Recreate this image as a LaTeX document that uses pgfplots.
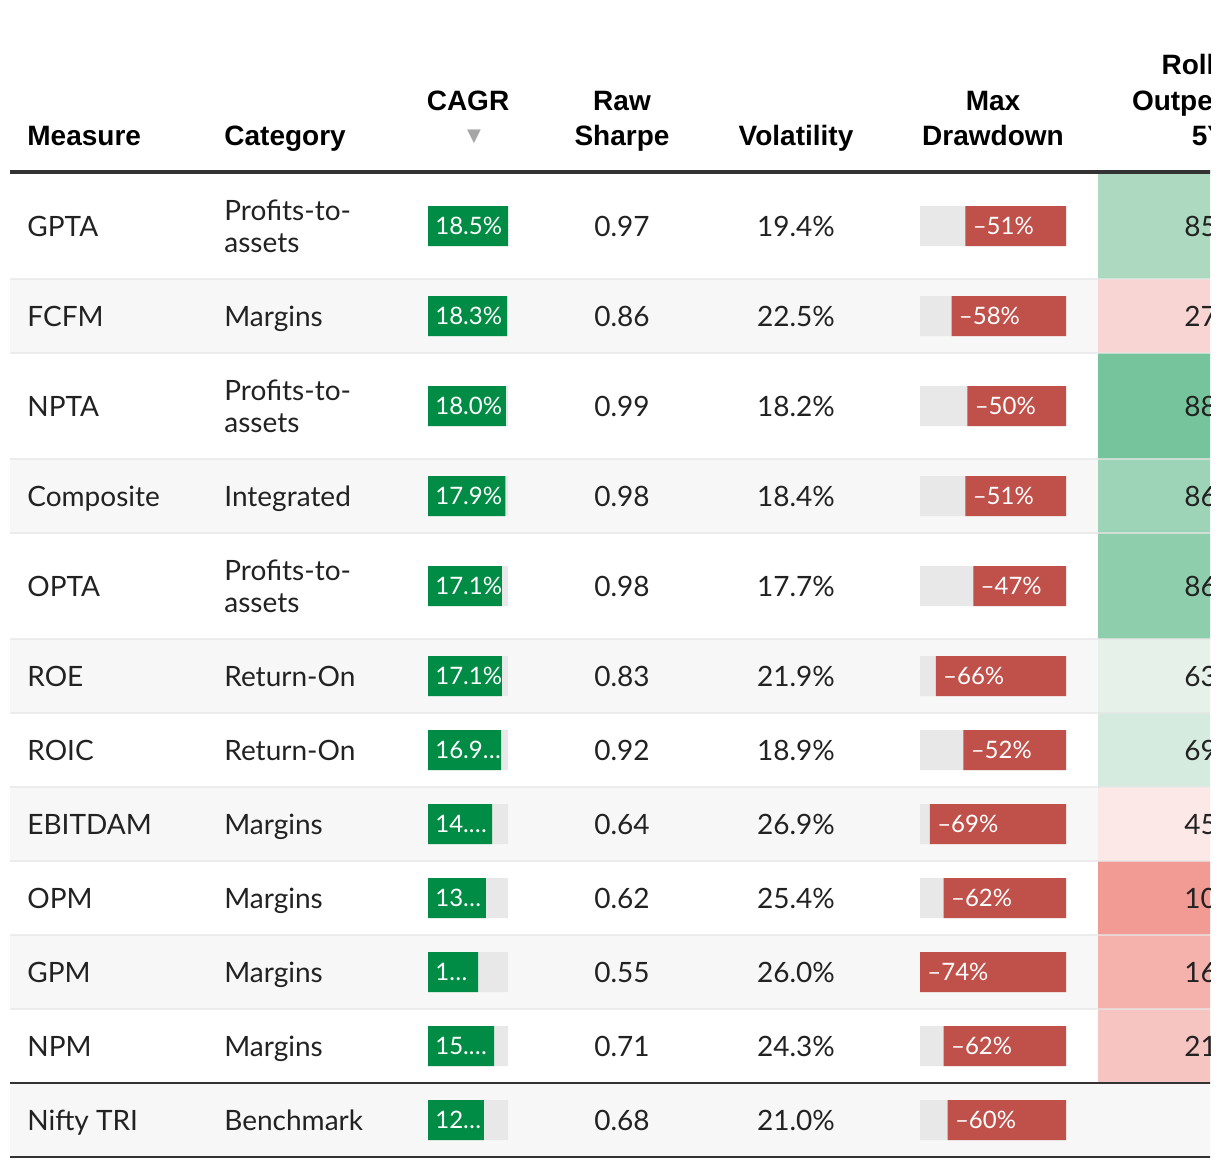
\documentclass[border=0pt]{standalone}
\usepackage{pgfplots}
\pgfplotsset{compat=1.18}
\usepackage{pgfplotstable}
\usepackage{fontspec}
\setmainfont{Lato}
\newfontfamily\headfont{Liberation Sans}
\newfontfamily\symfont{DejaVu Sans}

\definecolor{cgreen}{HTML}{008C45}
\definecolor{cred}{HTML}{C0504A}
\definecolor{barbg}{HTML}{E8E8E8}
\definecolor{rowbg}{HTML}{F7F7F7}
\definecolor{sepc}{HTML}{E6E6E6}
\definecolor{rulec}{HTML}{333333}
\definecolor{txt}{HTML}{222222}
\definecolor{hA}{HTML}{ADD9C1}
\definecolor{hB}{HTML}{F8D5D2}
\definecolor{hC}{HTML}{76C49C}
\definecolor{hD}{HTML}{9DD4B7}
\definecolor{hE}{HTML}{8FCEAD}
\definecolor{hF}{HTML}{E5F1E9}
\definecolor{hG}{HTML}{D6EBDF}
\definecolor{hH}{HTML}{FCE8E6}
\definecolor{hI}{HTML}{F29B94}
\definecolor{hJ}{HTML}{F5B2AD}
\definecolor{hK}{HTML}{F6C4C1}

\pgfplotstableread[col sep=comma]{
y,name,cagr,cagrlab,sharpe,vol,dd
226,GPTA,18.5,18.5\%,0.97,19.4,51
316,FCFM,18.3,18.3\%,0.86,22.5,58
406,NPTA,18.0,18.0\%,0.99,18.2,50
496,Composite,17.9,17.9\%,0.98,18.4,51
586,OPTA,17.1,17.1\%,0.98,17.7,47
676,ROE,17.1,17.1\%,0.83,21.9,66
750,ROIC,16.9,16.9…,0.92,18.9,52
824,EBITDAM,14.8,14.…,0.64,26.9,69
898,OPM,13.4,13…,0.62,25.4,62
972,GPM,11.6,1…,0.55,26.0,74
1046,NPM,15.3,15.…,0.71,24.3,62
1120,Nifty TRI,12.9,12…,0.68,21.0,60
}\data

\pgfplotstableread[col sep=comma]{
y,roll
226,85
316,27
406,88
496,86
586,86
676,63
750,69
824,45
898,10
972,16
1046,21
}\rolltab

\pgfplotstableread[col sep=comma]{
y,cat
210,Profits-to-
242,assets
316,Margins
390,Profits-to-
422,assets
496,Integrated
570,Profits-to-
602,assets
676,Return-On
750,Return-On
824,Margins
898,Margins
972,Margins
1046,Margins
1120,Benchmark
}\cats

\pgfplotsset{
  txtplot/.style={draw=none, mark=none, forget plot, nodes near coords,
    point meta=explicit symbolic,
    every node near coord/.append style={inner sep=0pt, text=txt,
      font=\fontsize{14}{16}\selectfont, yshift=-5pt}},
}

\begin{document}
\begin{tikzpicture}
\useasboundingbox (0,0) rectangle (610pt,584pt);
\clip (0,0) rectangle (605pt,584pt);
% ---------------- main axis (pixel grid) ----------------
\begin{axis}[at={(0pt,0pt)}, anchor=south west, width=610pt, height=584pt,
  scale only axis, xmin=0, xmax=1220, ymin=0, ymax=1168, y dir=reverse,
  hide axis, clip=false]
% alternating row backgrounds
\addplot[fill=rowbg, draw=none, forget plot] coordinates {(10,279) (1210,279) (1210,353) (10,353) (10,279)};
\addplot[fill=rowbg, draw=none, forget plot] coordinates {(10,459) (1210,459) (1210,533) (10,533) (10,459)};
\addplot[fill=rowbg, draw=none, forget plot] coordinates {(10,639) (1210,639) (1210,713) (10,713) (10,639)};
\addplot[fill=rowbg, draw=none, forget plot] coordinates {(10,787) (1210,787) (1210,861) (10,861) (10,787)};
\addplot[fill=rowbg, draw=none, forget plot] coordinates {(10,935) (1210,935) (1210,1009) (10,1009) (10,935)};
\addplot[fill=rowbg, draw=none, forget plot] coordinates {(10,1083) (1210,1083) (1210,1157) (10,1157) (10,1083)};
% heat cells (rolling outperformance)
\addplot[fill=hA, draw=none, forget plot] coordinates {(1098,172) (1230,172) (1230,279) (1098,279) (1098,172)};
\addplot[fill=hB, draw=none, forget plot] coordinates {(1098,279) (1230,279) (1230,353) (1098,353) (1098,279)};
\addplot[fill=hC, draw=none, forget plot] coordinates {(1098,353) (1230,353) (1230,459) (1098,459) (1098,353)};
\addplot[fill=hD, draw=none, forget plot] coordinates {(1098,459) (1230,459) (1230,533) (1098,533) (1098,459)};
\addplot[fill=hE, draw=none, forget plot] coordinates {(1098,533) (1230,533) (1230,639) (1098,639) (1098,533)};
\addplot[fill=hF, draw=none, forget plot] coordinates {(1098,639) (1230,639) (1230,713) (1098,713) (1098,639)};
\addplot[fill=hG, draw=none, forget plot] coordinates {(1098,713) (1230,713) (1230,787) (1098,787) (1098,713)};
\addplot[fill=hH, draw=none, forget plot] coordinates {(1098,787) (1230,787) (1230,861) (1098,861) (1098,787)};
\addplot[fill=hI, draw=none, forget plot] coordinates {(1098,861) (1230,861) (1230,935) (1098,935) (1098,861)};
\addplot[fill=hJ, draw=none, forget plot] coordinates {(1098,935) (1230,935) (1230,1009) (1098,1009) (1098,935)};
\addplot[fill=hK, draw=none, forget plot] coordinates {(1098,1009) (1230,1009) (1230,1083) (1098,1083) (1098,1009)};
% separators
\foreach \yy in {279,353,459,533,639,713,787,861,935,1009}{
  \edef\tmp{\noexpand\draw[sepc, line width=1pt, opacity=0.7] (axis cs:10,\yy) -- (axis cs:1230,\yy);}\tmp
}
\draw[rulec, line width=2pt] (axis cs:10,172) -- (axis cs:1230,172);
\draw[rulec, line width=1.2pt] (axis cs:10,1083) -- (axis cs:1230,1083);
\draw[rulec, line width=1.2pt] (axis cs:10,1157) -- (axis cs:1230,1157);
% header
\begin{scope}[every node/.style={inner sep=0pt, font=\headfont\bfseries\fontsize{14}{16}\selectfont, text=black}]
\node[anchor=base west] at (axis cs:27,145) {Measure};
\node[anchor=base west] at (axis cs:224,145) {Category};
\node[anchor=base] at (axis cs:468,110) {CAGR};
\node[anchor=base] at (axis cs:622,110) {Raw};
\node[anchor=base] at (axis cs:622,145) {Sharpe};
\node[anchor=base] at (axis cs:796,145) {Volatility};
\node[anchor=base] at (axis cs:993,110) {Max};
\node[anchor=base] at (axis cs:993,145) {Drawdown};
\node[anchor=base] at (axis cs:1209,74) {Rolling};
\node[anchor=base] at (axis cs:1209,110) {Outperform};
\node[anchor=base] at (axis cs:1209,145) {5Y};
\end{scope}
\node[inner sep=0pt, text=black!35, font=\symfont\fontsize{9}{10}\selectfont] at (axis cs:474,137) {▼};
% body text columns
\addplot[txtplot, every node near coord/.append style={anchor=base west}] table[x expr=27, y=y, meta=name] {\data};
\addplot[txtplot, every node near coord/.append style={anchor=base west}] table[x expr=224, y=y, meta=cat] {\cats};
\addplot[txtplot, every node near coord/.append style={anchor=base}] table[x expr=622, y=y, meta=sharpe] {\data};
\addplot[txtplot, nodes near coords={\pgfplotspointmeta\%}, every node near coord/.append style={anchor=base}] table[x expr=796, y=y, meta=vol] {\data};
\addplot[txtplot, every node near coord/.append style={anchor=base west}] table[x expr=1184, y=y, meta=roll] {\rolltab};
\end{axis}
% ---------------- CAGR bars ----------------
\begin{axis}[at={(214pt,0pt)}, anchor=south west, width=40pt, height=584pt,
  scale only axis, xmin=0, xmax=18.5, ymin=0, ymax=1168, y dir=reverse,
  hide axis, clip=false]
\addplot[xbar, bar width=40, bar shift=0pt, fill=barbg, draw=none] table[x expr=18.5, y=y] {\data};
\addplot[xbar, bar width=40, bar shift=0pt, fill=cgreen, draw=none] table[x=cagr, y=y] {\data};
\addplot[txtplot, every node near coord/.append style={anchor=base west, xshift=3.5pt, yshift=0.7pt, text=white, font=\fontsize{12}{14}\selectfont}] table[x expr=0, y=y, meta=cagrlab] {\data};
\end{axis}
% ---------------- Max drawdown bars ----------------
\begin{axis}[at={(460pt,0pt)}, anchor=south west, width=73pt, height=584pt,
  scale only axis, xmin=-74, xmax=0, ymin=0, ymax=1168, y dir=reverse,
  hide axis, clip=false]
\addplot[xbar, bar width=40, bar shift=0pt, fill=barbg, draw=none] table[x expr=-74, y=y] {\data};
\addplot[xbar, bar width=40, bar shift=0pt, fill=cred, draw=none] table[x expr=-\thisrow{dd}, y=y] {\data};
\addplot[txtplot, nodes near coords={–\pgfplotspointmeta\%}, every node near coord/.append style={anchor=base west, xshift=3.5pt, yshift=0.7pt, text=white, font=\fontsize{12}{14}\selectfont}] table[x expr=-\thisrow{dd}, y=y, meta=dd] {\data};
\end{axis}
\end{tikzpicture}
\end{document}
